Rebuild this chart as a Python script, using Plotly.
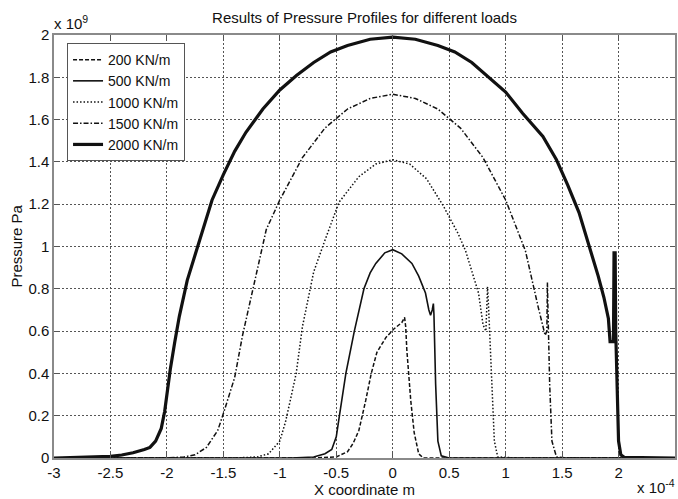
import plotly.graph_objects as go

# x in units of 1e-4 m, pressure in units of 1e9 Pa
x_200 = [-3.0, -0.7, -0.5, -0.4, -0.35, -0.30, -0.24, -0.19, -0.14, -0.06, 0.01, 0.05, 0.08, 0.105, 0.115, 0.125, 0.16, 0.19, 0.23, 0.27, 2.5]
p_200 = [0.0, 0.0, 0.005, 0.03, 0.07, 0.13, 0.27, 0.40, 0.50, 0.57, 0.61, 0.625, 0.64, 0.665, 0.62, 0.51, 0.27, 0.12, 0.02, 0.0, 0.0]

x_500 = [-3.0, -0.9, -0.7, -0.6, -0.54, -0.5, -0.475, -0.415, -0.34, -0.255, -0.2, -0.15, -0.07, 0.0, 0.08, 0.17, 0.23, 0.29, 0.32, 0.335, 0.35, 0.36, 0.365, 0.38, 0.40, 0.43, 0.5, 2.5]
p_500 = [0.0, 0.0, 0.005, 0.02, 0.04, 0.10, 0.19, 0.40, 0.60, 0.80, 0.875, 0.92, 0.97, 0.985, 0.965, 0.92, 0.86, 0.78, 0.70, 0.675, 0.70, 0.73, 0.68, 0.35, 0.08, 0.01, 0.0, 0.0]

x_1000 = [-3.0, -1.4, -1.2, -1.1, -1.0, -0.95, -0.9, -0.855, -0.8, -0.7, -0.6, -0.475, -0.3, -0.15, 0.0, 0.15, 0.3, 0.45, 0.58, 0.645, 0.76, 0.80, 0.825, 0.84, 0.85, 0.875, 0.90, 0.93, 1.1, 2.5]
p_1000 = [0.0, 0.0, 0.005, 0.02, 0.08, 0.17, 0.29, 0.40, 0.62, 0.88, 1.03, 1.21, 1.33, 1.39, 1.41, 1.39, 1.32, 1.19, 1.06, 0.98, 0.78, 0.63, 0.60, 0.81, 0.70, 0.35, 0.08, 0.005, 0.0, 0.0]

x_1500 = [-3.0, -2.0, -1.85, -1.75, -1.65, -1.55, -1.5, -1.45, -1.4, -1.33, -1.24, -1.12, -1.0, -0.8, -0.6, -0.4, -0.2, 0.0, 0.2, 0.4, 0.6, 0.8, 1.0, 1.175, 1.29, 1.35, 1.365, 1.37, 1.375, 1.39, 1.41, 1.45, 1.55, 2.5]
p_1500 = [0.0, 0.0, 0.005, 0.015, 0.05, 0.13, 0.21, 0.30, 0.38, 0.58, 0.79, 1.08, 1.22, 1.42, 1.56, 1.65, 1.70, 1.72, 1.70, 1.65, 1.56, 1.42, 1.22, 0.98, 0.71, 0.58, 0.60, 0.83, 0.70, 0.35, 0.08, 0.005, 0.0, 0.0]

x_2000 = [-3.0, -2.6, -2.5, -2.4, -2.3, -2.2, -2.15, -2.1, -2.05, -2.02, -2.0, -1.97, -1.93, -1.89, -1.82, -1.74, -1.67, -1.6, -1.5, -1.4, -1.3, -1.15, -1.0, -0.85, -0.7, -0.55, -0.4, -0.2, 0.0, 0.2, 0.4, 0.55, 0.7, 0.85, 1.0, 1.15, 1.33, 1.45, 1.55, 1.65, 1.75, 1.82, 1.87, 1.91, 1.925, 1.955, 1.96, 1.97, 1.975, 1.99, 2.0, 2.02, 2.05, 2.5]
p_2000 = [0.0, 0.005, 0.008, 0.014, 0.025, 0.04, 0.05, 0.08, 0.14, 0.22, 0.31, 0.42, 0.55, 0.67, 0.84, 0.98, 1.10, 1.22, 1.34, 1.45, 1.54, 1.65, 1.74, 1.81, 1.87, 1.92, 1.95, 1.98, 1.99, 1.98, 1.95, 1.92, 1.87, 1.80, 1.73, 1.63, 1.52, 1.41, 1.29, 1.16, 0.99, 0.86, 0.76, 0.66, 0.55, 0.55, 0.97, 0.97, 0.60, 0.25, 0.08, 0.015, 0.003, 0.0]

series_names = ["200 KN/m", "500 KN/m", "1000 KN/m", "1500 KN/m", "2000 KN/m"]

x_ticks = [-3, -2.5, -2, -1.5, -1, -0.5, 0, 0.5, 1, 1.5, 2]
x_tick_labels = ["-3", "-2.5", "-2", "-1.5", "-1", "-0.5", "0", "0.5", "1", "1.5", "2"]
y_ticks = [0, 0.2, 0.4, 0.6, 0.8, 1.0, 1.2, 1.4, 1.6, 1.8, 2.0]
y_tick_labels = ["0", "0.2", "0.4", "0.6", "0.8", "1", "1.2", "1.4", "1.6", "1.8", "2"]

FONT = "Liberation Sans, Arial, Helvetica, sans-serif"
INK = "#111111"
FS = 15

fig = go.Figure()
styles = [
    dict(dash="4px,2px", width=1.5),
    dict(dash="solid", width=1.6),
    dict(dash="1.5px,2px", width=1.5),
    dict(dash="5px,2px,1.5px,2px", width=1.5),
    dict(dash="solid", width=3.2),
]
data = [(x_200, p_200), (x_500, p_500), (x_1000, p_1000), (x_1500, p_1500), (x_2000, p_2000)]
for (xs, ps), name, st in zip(data, series_names, styles):
    fig.add_trace(go.Scatter(x=xs, y=ps, mode="lines", name=name,
                             line=dict(color=INK, dash=st["dash"], width=st["width"])))

axis_common = dict(
    showgrid=True, gridcolor="#555555", griddash="2px,2px", gridwidth=1,
    zeroline=False, showline=True, linecolor="#8a8a8a", linewidth=1.5,
    mirror="ticks", ticks="inside", ticklen=5, tickcolor="#555555",
    tickfont=dict(family=FONT, size=FS, color=INK),
)

fig.update_layout(
    width=678, height=499,
    paper_bgcolor="white", plot_bgcolor="white",
    margin=dict(l=54, r=1, t=35, b=41),
    showlegend=True,
    title=dict(text="Results of Pressure Profiles for different loads",
               x=0.5, xref="paper", xanchor="center",
               y=1 - 18 / 499, yref="container", yanchor="middle",
               font=dict(family=FONT, size=FS, color=INK)),
    legend=dict(x=0.021, y=0.981, xanchor="left", yanchor="top",
                bgcolor="white", bordercolor="#555555", borderwidth=1,
                font=dict(family=FONT, size=14, color=INK),
                tracegroupgap=0, itemwidth=30),
    xaxis=dict(range=[-3, 2.5], tickvals=x_ticks, ticktext=x_tick_labels, **axis_common),
    yaxis=dict(range=[0, 2], tickvals=y_ticks, ticktext=y_tick_labels, **axis_common),
    annotations=[
        dict(text="X coordinate m", xref="paper", yref="paper", x=0.5, y=-31 / 423,
             xanchor="center", yanchor="middle", showarrow=False,
             font=dict(family=FONT, size=FS, color=INK)),
        dict(text="Pressure Pa", xref="paper", yref="paper", x=-38 / 623, y=0.5,
             xanchor="center", yanchor="middle", textangle=-90, showarrow=False,
             font=dict(family=FONT, size=FS, color=INK)),
        dict(text="x 10<sup>9</sup>", xref="paper", yref="paper", x=-2 / 623, y=1 + 12 / 423,
             xanchor="left", yanchor="middle", showarrow=False,
             font=dict(family=FONT, size=FS, color=INK)),
        dict(text="x 10<sup>-4</sup>", xref="paper", yref="paper", x=583 / 623, y=-28 / 423,
             xanchor="left", yanchor="middle", showarrow=False,
             font=dict(family=FONT, size=FS, color=INK)),
    ],
)

fig.write_html("out.html", config={"displayModeBar": False},
               post_script="document.body.style.margin='0';document.body.style.overflow='hidden';")
